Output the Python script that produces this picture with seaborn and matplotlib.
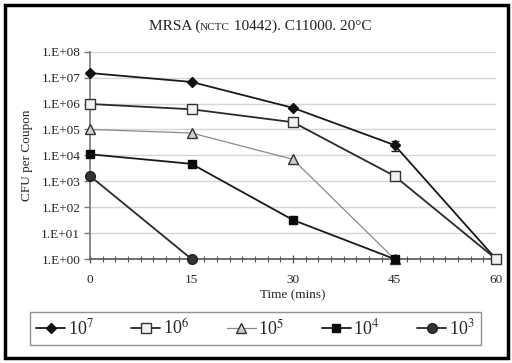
import numpy as np
import pandas as pd
import matplotlib
matplotlib.use("Agg")
import matplotlib.pyplot as plt
from matplotlib.patches import Rectangle
from matplotlib.ticker import FixedLocator, NullLocator
import seaborn as sns

# ---- data ----
time_min = [0, 15, 30, 45, 60]
series_labels = ["10$^7$", "10$^6$", "10$^5$", "10$^4$", "10$^3$"]
cfu_1e7 = [1.5e7, 6.8e6, 6.8e5, 2.5e4, 1.0]
cfu_1e6 = [9.6e5, 6.0e5, 1.9e5, 1.6e3, 1.0]
cfu_1e5 = [1.0e5, 7.3e4, 7.0e3, 1.0]
cfu_1e4 = [1.1e4, 4.7e3, 32, 1.0]
cfu_1e3 = [1.6e3, 1.0]
err_1e7 = [0, 0, 0, 1.0e4, 0]
ytick_vals = [1e0, 1e1, 1e2, 1e3, 1e4, 1e5, 1e6, 1e7, 1e8]
ytick_labels = ["1.E+00", "1.E+01", "1.E+02", "1.E+03", "1.E+04",
                "1.E+05", "1.E+06", "1.E+07", "1.E+08"]
xtick_vals = [0, 15, 30, 45, 60]

sns.set_theme(style="white")
plt.rcParams["font.family"] = ["Liberation Serif", "DejaVu Serif"]
plt.rcParams["mathtext.fontset"] = "stix"

fig = plt.figure(figsize=(5.12, 3.63), dpi=100)
ax = fig.add_axes([90/512, 1-259/363, (496-90)/512, (259-51.7)/363])

all_series = [cfu_1e7, cfu_1e6, cfu_1e5, cfu_1e4, cfu_1e3]
styles = [
    dict(color="#1a1a1a", lw=1.3, marker="D", ms=5.5, mfc="#111111", mec="#111111"),
    dict(color="#2a2a2a", lw=1.3, marker="s", ms=7, mfc="#f2f2f2", mec="#333333"),
    dict(color="#8a8a8a", lw=0.9, marker="^", ms=7, mfc="#cfcfcf", mec="#333333"),
    dict(color="#1a1a1a", lw=1.3, marker="s", ms=6, mfc="#0a0a0a", mec="#0a0a0a"),
    dict(color="#2a2a2a", lw=1.3, marker="o", ms=7, mfc="#333333", mec="#222222"),
]

handles = []
for vals, lab, st in zip(all_series, series_labels, styles):
    df = pd.DataFrame({"t": time_min[:len(vals)], "cfu": vals})
    sns.lineplot(data=df, x="t", y="cfu", ax=ax, color=st["color"], lw=st["lw"],
                 marker=st["marker"], markersize=st["ms"], markerfacecolor=st["mfc"],
                 markeredgecolor=st["mec"], markeredgewidth=1.0, clip_on=False,
                 zorder=3, label=lab)
    handles.append(ax.lines[-1])

# error bar on the 10^7 series
err = np.array(err_1e7)
mask = err > 0
ax.errorbar(np.array(time_min)[mask], np.array(cfu_1e7)[mask], yerr=err[mask],
            fmt="none", ecolor="#222222", elinewidth=1, capsize=3, zorder=2)

ax.set_yscale("log")
ax.set_ylim(1, 1e8)
ax.set_xlim(0, 60)
ax.yaxis.set_major_locator(FixedLocator(ytick_vals))
ax.set_yticklabels(ytick_labels)
ax.yaxis.set_minor_locator(NullLocator())
ax.set_xticks(xtick_vals)
ax.set_xticklabels([str(v) for v in xtick_vals])
ax.xaxis.set_minor_locator(FixedLocator(np.arange(0, 60.01, 1.875)))

for y in ytick_vals[1:]:
    ax.axhline(y, color="#d6d6d6", lw=1, zorder=1)

for s in ["top", "right"]:
    ax.spines[s].set_visible(False)
ax.spines["left"].set_color("#777777")
ax.spines["bottom"].set_color("#555555")
ax.spines["left"].set_linewidth(1.2)
ax.spines["bottom"].set_linewidth(1.2)

ax.tick_params(axis="y", which="major", direction="out", length=4, width=1,
               color="#777777", labelsize=9.5, pad=3, left=True)
ax.tick_params(axis="x", which="major", direction="inout", length=6, width=1,
               color="#555555", labelsize=9.5, pad=8, bottom=True)
ax.tick_params(axis="x", which="minor", direction="inout", length=4, width=0.8,
               color="#555555", bottom=True)
ax.grid(False)

ax.set_xlabel("Time (mins)", fontsize=9.5, labelpad=2)
ax.set_ylabel("CFU per Coupon", fontsize=9.5, labelpad=6)
if ax.get_legend():
    ax.get_legend().remove()

# title with small caps "NCTC"
fig.canvas.draw()
renderer = fig.canvas.get_renderer()
pieces = [("MRSA (", 11), ("NCTC", 8), (" 10442). C11000. 20°C", 11)]
texts = []
for s, sz in pieces:
    t = fig.text(0, 1-30/363, s, fontsize=sz, ha="left", va="baseline", color="#222222")
    texts.append(t)
widths = [t.get_window_extent(renderer).width for t in texts]
total = sum(widths)
x0 = 260 - total/2
for t, w in zip(texts, widths):
    t.set_x(x0/512)
    x0 += w

leg = fig.legend(handles=handles, labels=series_labels, loc="lower left",
                 bbox_to_anchor=(30/512, 1-345/363, (481-30)/512, 37/363),
                 mode="expand", ncol=5, frameon=True, fancybox=False,
                 fontsize=13, handlelength=1.6, handletextpad=0.15,
                 borderaxespad=0, borderpad=0.35, columnspacing=1.0)
leg.get_frame().set_edgecolor("#777777")
leg.get_frame().set_linewidth(1.0)

fig.patches.append(Rectangle((5/512, 5/363), 503/512, 353/363, transform=fig.transFigure,
                             fill=False, edgecolor="black", lw=2.5))

fig.savefig("out.png", dpi=100)
